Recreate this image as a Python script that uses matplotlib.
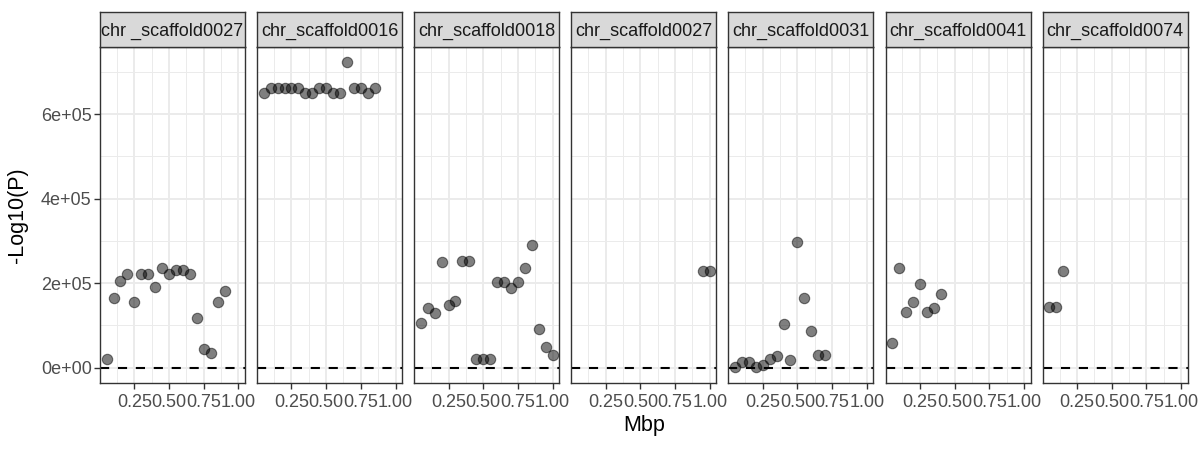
#!/usr/bin/env python
# coding=utf-8

import matplotlib
matplotlib.use('Agg')
import matplotlib.pyplot as plt
from matplotlib.ticker import FixedLocator
import numpy as np

plt.rcParams['font.family'] = ['Liberation Sans', 'DejaVu Sans']

# facet labels (first one really has a space in it)
panels = ['chr _scaffold0027', 'chr_scaffold0016', 'chr_scaffold0018', 'chr_scaffold0027',
          'chr_scaffold0031', 'chr_scaffold0041', 'chr_scaffold0074']

# Mbp positions and -log10(P) values
mbp_1 = [0.05, 0.10, 0.15, 0.20, 0.25, 0.30, 0.35, 0.40, 0.45, 0.50, 0.55, 0.60, 0.65, 0.70, 0.75, 0.80, 0.85, 0.90]
p_1 = [21e3, 165e3, 205e3, 223e3, 155e3, 223e3, 223e3, 191e3, 237e3, 222e3, 231e3, 231e3, 223e3, 117e3, 45e3, 35e3, 155e3, 181e3]

mbp_2 = [0.05, 0.10, 0.15, 0.20, 0.25, 0.30, 0.35, 0.40, 0.45, 0.50, 0.55, 0.60, 0.65, 0.70, 0.75, 0.80, 0.85]
p_2 = [650e3, 662e3, 662e3, 662e3, 662e3, 662e3, 650e3, 650e3, 662e3, 662e3, 650e3, 650e3, 723e3, 662e3, 662e3, 650e3, 662e3]

mbp_3 = [0.05, 0.10, 0.15, 0.20, 0.25, 0.30, 0.35, 0.40, 0.45, 0.50, 0.55, 0.60, 0.65, 0.70, 0.75, 0.80, 0.85, 0.90, 0.95, 1.00]
p_3 = [106e3, 141e3, 130e3, 251e3, 149e3, 159e3, 252e3, 252e3, 21e3, 21e3, 21e3, 202e3, 202e3, 188e3, 202e3, 235e3, 290e3, 92e3, 50e3, 29e3]

mbp_4 = [0.95, 1.00]
p_4 = [229e3, 229e3]

mbp_5 = [0.05, 0.10, 0.15, 0.20, 0.25, 0.30, 0.35, 0.40, 0.45, 0.50, 0.55, 0.60, 0.65, 0.70]
p_5 = [2e3, 13e3, 13e3, 2e3, 7e3, 21e3, 27e3, 104e3, 19e3, 297e3, 164e3, 88e3, 29e3, 29e3]

mbp_6 = [0.05, 0.10, 0.15, 0.20, 0.25, 0.30, 0.35, 0.40]
p_6 = [59e3, 237e3, 132e3, 156e3, 199e3, 132e3, 142e3, 175e3]

mbp_7 = [0.05, 0.10, 0.15]
p_7 = [144e3, 144e3, 228e3]

all_mbp = [mbp_1, mbp_2, mbp_3, mbp_4, mbp_5, mbp_6, mbp_7]
all_p = [p_1, p_2, p_3, p_4, p_5, p_6, p_7]

x_breaks = [0.25, 0.50, 0.75, 1.00]
x_minor = [0.125, 0.375, 0.625, 0.875]
y_breaks = [0, 2e5, 4e5, 6e5]
y_minor = [1e5, 3e5, 5e5, 7e5]
y_labels = ['0e+00', '2e+05', '4e+05', '6e+05']
threshold = 0

# ggplot style 5% expansion of shared scales
xs = np.concatenate(all_mbp)
ys = np.concatenate(all_p + [[threshold]])
xpad = 0.05 * (xs.max() - xs.min())
ypad = 0.05 * (ys.max() - ys.min())
xlim = (xs.min() - xpad, xs.max() + xpad)
ylim = (ys.min() - ypad, ys.max() + ypad)

W, H = 1200, 450
fig = plt.figure(figsize=(W / 100, H / 100), dpi=100)

left0, pw, step = 100, 145, 157.1
top, bottom, strip_h = 47, 383, 35
border = '#333333'

for i, (name, mx, py) in enumerate(zip(panels, all_mbp, all_p)):
    x0 = left0 + i * step
    ax = fig.add_axes([x0 / W, 1 - bottom / H, pw / W, (bottom - top) / H])
    ax.set_xlim(*xlim)
    ax.set_ylim(*ylim)
    ax.xaxis.set_major_locator(FixedLocator(x_breaks))
    ax.xaxis.set_minor_locator(FixedLocator(x_minor))
    ax.yaxis.set_major_locator(FixedLocator(y_breaks))
    ax.yaxis.set_minor_locator(FixedLocator(y_minor))
    ax.set_xticklabels(['%.2f' % v for v in x_breaks])
    ax.grid(which='major', color='#EBEBEB', linewidth=1.4, zorder=0)
    ax.grid(which='minor', color='#EBEBEB', linewidth=0.7, zorder=0)
    ax.set_axisbelow(True)
    ax.tick_params(axis='both', which='major', length=4, width=1, color=border,
                   labelsize=13, labelcolor='#4D4D4D', pad=2)
    ax.tick_params(axis='x', which='major', pad=4)
    ax.tick_params(axis='both', which='minor', length=0)
    if i == 0:
        ax.set_yticklabels(y_labels)
    else:
        ax.tick_params(axis='y', which='major', length=0, labelleft=False)
    for s in ax.spines.values():
        s.set_color(border)
        s.set_linewidth(1)

    ax.axhline(threshold, color='black', linewidth=1.5, dashes=(4.4, 4.2), zorder=2)
    ax.scatter(mx, py, s=56, c='black', alpha=0.5, linewidths=0.8, zorder=3)

    # facet strip
    sax = fig.add_axes([x0 / W, 1 - top / H, pw / W, strip_h / H])
    sax.set_facecolor('#D9D9D9')
    sax.set_xticks([])
    sax.set_yticks([])
    for s in sax.spines.values():
        s.set_color(border)
        s.set_linewidth(1)
    sax.text(0.5, 0.45, name, ha='center', va='center', fontsize=13, color='#1A1A1A',
             transform=sax.transAxes)

fig.text(644 / W, 1 - 426 / H, 'Mbp', ha='center', va='center', fontsize=15.5)
fig.text(18 / W, 1 - 215 / H, '-Log10(P)', ha='center', va='center', rotation=90, fontsize=15.5)

fig.savefig('out.png', dpi=100)
